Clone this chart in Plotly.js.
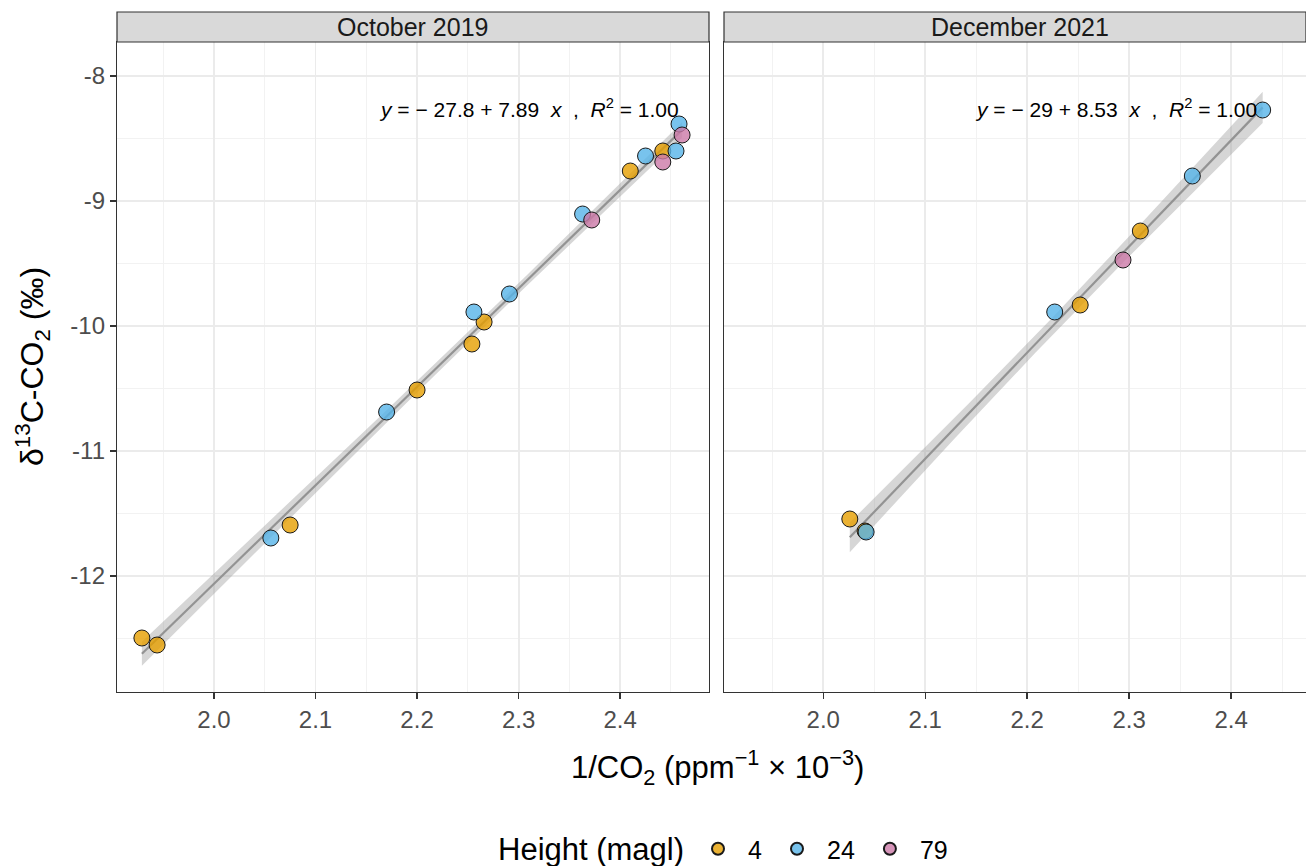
<!DOCTYPE html>
<html><head><meta charset="utf-8">
<script src="https://cdn.plot.ly/plotly-3.0.1.min.js"></script>
<style>html,body{margin:0;padding:0;background:#fff}#plot{width:1306px;height:866px}</style>
</head><body><div id="plot"></div>
<script>
// ---- data ----
const heights = ['4', '24', '79'];
const panels = ['October 2019', 'December 2021'];
const oct_x_4  = [1.929, 1.944, 2.075, 2.200, 2.254, 2.266, 2.410, 2.442];
const oct_y_4  = [-12.496, -12.552, -11.592, -10.512, -10.144, -9.968, -8.76, -8.60];
const oct_x_24 = [2.056, 2.170, 2.256, 2.291, 2.363, 2.425, 2.455, 2.458];
const oct_y_24 = [-11.696, -10.688, -9.888, -9.744, -9.104, -8.64, -8.60, -8.384];
const oct_x_79 = [2.372, 2.442, 2.461];
const oct_y_79 = [-9.152, -8.688, -8.472];
const dec_x_4  = [2.026, 2.041, 2.252, 2.311];
const dec_y_4  = [-11.544, -11.640, -9.832, -9.24];
const dec_x_24 = [2.042, 2.227, 2.362, 2.431];
const dec_y_24 = [-11.648, -9.888, -8.80, -8.272];
const dec_x_79 = [2.294];
const dec_y_79 = [-9.472];
const eqLabels = ['<i>y</i> = \u2212 27.8 + 7.89  <i>x</i>  ,  <i>R</i><sup>2</sup> = 1.00',
                  '<i>y</i> = \u2212 29 + 8.53  <i>x</i>  ,  <i>R</i><sup>2</sup> = 1.00'];
const xTickVals = [2.0, 2.1, 2.2, 2.3, 2.4];
const xTickText = ['2.0', '2.1', '2.2', '2.3', '2.4'];
const yTickVals = [-12, -11, -10, -9, -8];
const yTickText = ['-12', '-11', '-10', '-9', '-8'];

// ---- styles ----
const fillCols = {'4': 'rgba(230,159,0,0.8)', '24': 'rgba(86,180,233,0.8)', '79': 'rgba(204,121,167,0.8)'};
const FONT = 'Liberation Sans, Arial, Helvetica, sans-serif';
const tq = {5: 2.571, 6: 2.447, 7: 2.365, 8: 2.306, 9: 2.262, 10: 2.228, 15: 2.131, 16: 2.120, 17: 2.110, 18: 2.101};

function fitBand(xs, ys) {
  const n = xs.length;
  const mx = xs.reduce((a, b) => a + b, 0) / n, my = ys.reduce((a, b) => a + b, 0) / n;
  let sxx = 0, sxy = 0;
  for (let i = 0; i < n; i++) { sxx += (xs[i] - mx) ** 2; sxy += (xs[i] - mx) * (ys[i] - my); }
  const b = sxy / sxx, a = my - b * mx;
  let sse = 0;
  for (let i = 0; i < n; i++) sse += (ys[i] - a - b * xs[i]) ** 2;
  const s = Math.sqrt(sse / (n - 2)), t = tq[n - 2] || 2.1;
  const lo = Math.min(...xs), hi = Math.max(...xs);
  const gx = [], gy = [], up = [], dn = [];
  for (let k = 0; k <= 80; k++) {
    const x = lo + (hi - lo) * k / 80;
    const y = a + b * x;
    const se = s * Math.sqrt(1 / n + (x - mx) ** 2 / sxx);
    gx.push(x); gy.push(y); up.push(y + t * se); dn.push(y - t * se);
  }
  return {gx, gy, up, dn};
}

const traces = [];
const sets = [
  {xa: 'x', ya: 'y', X: {'4': oct_x_4, '24': oct_x_24, '79': oct_x_79}, Y: {'4': oct_y_4, '24': oct_y_24, '79': oct_y_79}},
  {xa: 'x2', ya: 'y2', X: {'4': dec_x_4, '24': dec_x_24, '79': dec_x_79}, Y: {'4': dec_y_4, '24': dec_y_24, '79': dec_y_79}}
];
sets.forEach((s, pi) => {
  const ax = [].concat(...heights.map(h => s.X[h]));
  const ay = [].concat(...heights.map(h => s.Y[h]));
  const f = fitBand(ax, ay);
  traces.push({x: f.gx.concat(f.gx.slice().reverse()), y: f.up.concat(f.dn.slice().reverse()),
    xaxis: s.xa, yaxis: s.ya, type: 'scatter', mode: 'lines', fill: 'toself',
    fillcolor: 'rgba(153,153,153,0.4)', line: {width: 0}, showlegend: false, hoverinfo: 'skip'});
  traces.push({x: f.gx, y: f.gy, xaxis: s.xa, yaxis: s.ya, type: 'scatter', mode: 'lines',
    line: {color: '#939393', width: 2.2}, showlegend: false, hoverinfo: 'skip'});
  heights.forEach(h => {
    traces.push({x: s.X[h], y: s.Y[h], xaxis: s.xa, yaxis: s.ya, type: 'scatter', mode: 'markers',
      name: h, legendgroup: h, showlegend: pi === 0,
      marker: {size: 16, color: fillCols[h], line: {color: '#1a1a1a', width: 1}}});
  });
});

const W = 1306, H = 866;
const px = v => v / W, py = v => 1 - v / H;
const axBase = {
  showline: true, linecolor: '#333333', linewidth: 1.2, mirror: true, zeroline: false,
  showgrid: true, gridcolor: '#EBEBEB', gridwidth: 1.8,
  ticks: 'outside', ticklen: 6, tickcolor: '#333333', tickwidth: 1.4,
  tickfont: {family: FONT, size: 24, color: '#4D4D4D'}
};
const xMinor = {dtick: 0.05, tick0: 1.95, showgrid: true, gridcolor: '#F2F2F2', gridwidth: 1, ticks: ''};
const yMinor = {dtick: 0.5, tick0: -12.5, showgrid: true, gridcolor: '#F2F2F2', gridwidth: 1, ticks: ''};

const layout = {
  width: W, height: H, margin: {l: 0, r: 0, t: 0, b: 0, autoexpand: false},
  paper_bgcolor: '#fff', plot_bgcolor: '#fff',
  font: {family: FONT},
  xaxis: Object.assign({}, axBase, {domain: [px(117), px(709)], range: [1.9045, 2.4875],
    tickmode: 'array', tickvals: xTickVals, ticktext: xTickText, minor: xMinor, anchor: 'y'}),
  yaxis: Object.assign({}, axBase, {domain: [py(692), py(42)], range: [-12.928, -7.728],
    tickmode: 'array', tickvals: yTickVals, ticktext: yTickText, minor: yMinor, anchor: 'x'}),
  xaxis2: Object.assign({}, axBase, {domain: [px(724), 1], range: [1.9026, 2.4735],
    tickmode: 'array', tickvals: xTickVals, ticktext: xTickText, minor: xMinor, anchor: 'y2'}),
  yaxis2: Object.assign({}, axBase, {domain: [py(692), py(42)], range: [-12.928, -7.728],
    tickmode: 'array', tickvals: yTickVals, ticktext: yTickText, minor: yMinor, anchor: 'x2',
    showticklabels: false, ticks: ''}),
  shapes: [
    {type: 'rect', xref: 'paper', yref: 'paper', x0: px(117), x1: px(709), y0: py(42), y1: py(12),
      fillcolor: '#D9D9D9', line: {color: '#333333', width: 1.2}},
    {type: 'rect', xref: 'paper', yref: 'paper', x0: px(724), x1: 1.0, y0: py(42), y1: py(12),
      fillcolor: '#D9D9D9', line: {color: '#333333', width: 1.2}}
  ],
  annotations: [
    {text: panels[0], xref: 'paper', yref: 'paper', x: px(413), y: py(27), showarrow: false,
      font: {family: FONT, size: 25, color: '#1A1A1A'}, xanchor: 'center', yanchor: 'middle'},
    {text: panels[1], xref: 'paper', yref: 'paper', x: px(1020), y: py(27), showarrow: false,
      font: {family: FONT, size: 25, color: '#1A1A1A'}, xanchor: 'center', yanchor: 'middle'},
    {text: eqLabels[0], xref: 'paper', yref: 'paper', x: px(681), y: py(108), showarrow: false,
      font: {family: FONT, size: 21, color: '#000'}, xanchor: 'right', yanchor: 'middle'},
    {text: eqLabels[1], xref: 'paper', yref: 'paper', x: px(1259), y: py(108), showarrow: false,
      font: {family: FONT, size: 21, color: '#000'}, xanchor: 'right', yanchor: 'middle'},
    {text: '1/CO<sub>2</sub> (ppm<sup>\u22121</sup> \u00d7 10<sup>\u22123</sup>)', xref: 'paper', yref: 'paper',
      x: px(717), y: py(767), showarrow: false, font: {family: FONT, size: 31, color: '#000'},
      xanchor: 'center', yanchor: 'middle'},
    {text: '\u03b4<sup>13</sup>C-CO<sub>2</sub> (\u2030)', xref: 'paper', yref: 'paper',
      x: px(32), y: py(367), showarrow: false, textangle: -90, font: {family: FONT, size: 32, color: '#000'},
      xanchor: 'center', yanchor: 'middle'},
    {text: 'Height (magl)', xref: 'paper', yref: 'paper', x: px(686), y: py(849), showarrow: false,
      font: {family: FONT, size: 31, color: '#000'}, xanchor: 'right', yanchor: 'middle'}
  ],
  showlegend: true,
  legend: {orientation: 'h', x: px(688), xanchor: 'left', y: py(849), yanchor: 'middle',
    font: {family: FONT, size: 25, color: '#000'}, itemsizing: 'constant', itemwidth: 50,
    traceorder: 'normal', bgcolor: 'rgba(0,0,0,0)'}
};

Plotly.newPlot('plot', traces, layout, {displayModeBar: false, staticPlot: true});
</script></body></html>
